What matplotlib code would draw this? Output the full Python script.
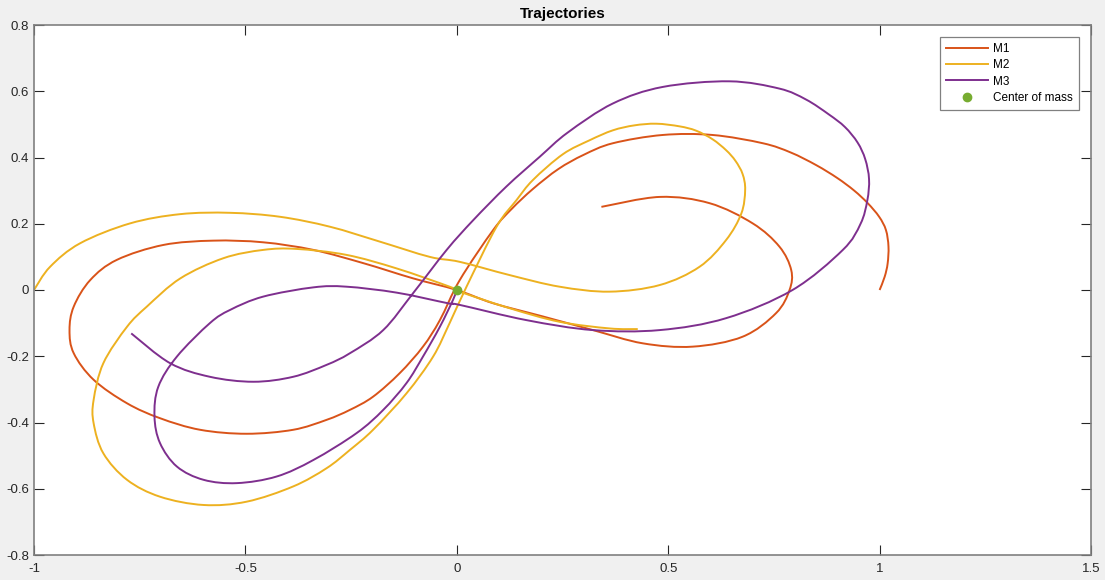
import matplotlib
matplotlib.use("Agg")
import matplotlib.pyplot as plt
from matplotlib.path import Path
from matplotlib.patches import PathPatch
from matplotlib.lines import Line2D
from matplotlib.ticker import FixedLocator, FuncFormatter

plt.rcParams['font.family'] = ['Liberation Sans', 'DejaVu Sans']

# trajectory samples (x, y)
m1_x = [1.000, 1.012, 1.019, 1.021, 1.015, 0.999, 0.972, 0.940, 0.900, 0.850,
        0.790, 0.724, 0.605, 0.487, 0.369, 0.300, 0.240, 0.180, 0.130, 0.086,
        0.007, -0.040, -0.080, -0.135, -0.198, -0.253, -0.308, -0.387, -0.497, -0.607,
        -0.702, -0.780, -0.859, -0.906, -0.916, -0.906, -0.867, -0.804, -0.694, -0.576,
        -0.458, -0.339, -0.221, -0.103, 0.000, 0.086, 0.204, 0.322, 0.440, 0.558,
        0.676, 0.755, 0.787, 0.791, 0.763, 0.700, 0.598, 0.480, 0.342]
m1_y = [0.000, 0.040, 0.080, 0.131, 0.181, 0.221, 0.262, 0.300, 0.338, 0.377,
        0.415, 0.443, 0.468, 0.468, 0.443, 0.408, 0.365, 0.305, 0.245, 0.181,
        0.030, -0.091, -0.171, -0.251, -0.322, -0.362, -0.392, -0.422, -0.434, -0.422,
        -0.387, -0.342, -0.271, -0.191, -0.121, -0.050, 0.030, 0.091, 0.136, 0.149,
        0.144, 0.121, 0.081, 0.035, 0.000, -0.040, -0.080, -0.121, -0.161, -0.171,
        -0.141, -0.070, 0.000, 0.060, 0.131, 0.201, 0.262, 0.281, 0.251]

m2_x = [-1.000, -0.962, -0.891, -0.773, -0.654, -0.536, -0.418, -0.300, -0.182, -0.064,
        0.007, 0.125, 0.243, 0.361, 0.480, 0.574, 0.637, 0.673, 0.682, 0.676,
        0.659, 0.637, 0.605, 0.566, 0.527, 0.472, 0.420, 0.369, 0.314, 0.251,
        0.180, 0.141, 0.094, 0.023, -0.017, -0.056, -0.119, -0.198, -0.253, -0.308,
        -0.387, -0.497, -0.599, -0.702, -0.780, -0.836, -0.859, -0.859, -0.836, -0.780,
        -0.733, -0.654, -0.552, -0.458, -0.379, -0.261, -0.142, -0.017, 0.007, 0.125,
        0.243, 0.361, 0.428]
m2_y = [0.000, 0.070, 0.141, 0.201, 0.229, 0.233, 0.221, 0.191, 0.146, 0.100,
        0.085, 0.045, 0.010, -0.005, 0.015, 0.070, 0.151, 0.231, 0.302, 0.350,
        0.390, 0.422, 0.455, 0.481, 0.494, 0.502, 0.497, 0.482, 0.452, 0.410,
        0.332, 0.271, 0.191, 0.010, -0.100, -0.201, -0.312, -0.422, -0.483, -0.538,
        -0.593, -0.639, -0.649, -0.624, -0.573, -0.493, -0.402, -0.332, -0.221, -0.111,
        -0.050, 0.035, 0.096, 0.121, 0.124, 0.106, 0.065, 0.010, -0.005, -0.055,
        -0.096, -0.116, -0.118]

m3_x = [0.000, -0.009, -0.040, -0.080, -0.119, -0.174, -0.237, -0.339, -0.426, -0.520,
        -0.599, -0.662, -0.702, -0.715, -0.706, -0.662, -0.584, -0.536, -0.458, -0.339,
        -0.261, -0.142, -0.021, 0.007, 0.165, 0.322, 0.480, 0.637, 0.794, 0.913,
        0.955, 0.971, 0.975, 0.966, 0.948, 0.918, 0.880, 0.826, 0.763, 0.645,
        0.487, 0.369, 0.262, 0.196, 0.117, 0.039, -0.024, -0.103, -0.174, -0.253,
        -0.308, -0.387, -0.481, -0.584, -0.678, -0.770]
m3_y = [0.000, -0.030, -0.111, -0.201, -0.281, -0.362, -0.432, -0.513, -0.563, -0.583,
        -0.573, -0.533, -0.462, -0.382, -0.292, -0.201, -0.100, -0.060, -0.020, 0.008,
        0.010, -0.008, -0.040, -0.045, -0.091, -0.121, -0.121, -0.085, 0.000, 0.121,
        0.200, 0.271, 0.335, 0.395, 0.445, 0.492, 0.530, 0.575, 0.608, 0.630,
        0.613, 0.563, 0.475, 0.402, 0.312, 0.211, 0.121, -0.009, -0.121, -0.191,
        -0.226, -0.262, -0.277, -0.262, -0.221, -0.131]

com_x = [0.0]
com_y = [0.0]

x_ticks = [-1, -0.5, 0, 0.5, 1, 1.5]
y_ticks = [-0.8, -0.6, -0.4, -0.2, 0, 0.2, 0.4, 0.6, 0.8]

colors = {'M1': '#d95319', 'M2': '#edb120', 'M3': '#7e2f8e'}
LW = 1.4


def smooth_path(xs, ys):
    # pass a Bezier curve through every sampled point (Catmull-Rom tangents)
    pts = list(zip(xs, ys))
    n = len(pts)
    verts = [pts[0]]
    codes = [Path.MOVETO]
    for i in range(n - 1):
        p0 = pts[max(i - 1, 0)]
        p1 = pts[i]
        p2 = pts[i + 1]
        p3 = pts[min(i + 2, n - 1)]
        c1 = (p1[0] + (p2[0] - p0[0]) / 6, p1[1] + (p2[1] - p0[1]) / 6)
        c2 = (p2[0] - (p3[0] - p1[0]) / 6, p2[1] - (p3[1] - p1[1]) / 6)
        verts += [c1, c2, p2]
        codes += [Path.CURVE4] * 3
    return Path(verts, codes)


fig = plt.figure(figsize=(11.05, 5.8), dpi=100, facecolor='#f0f0f0')
ax = fig.add_axes([34 / 1105, 25 / 580, 1057 / 1105, 530 / 580])
ax.set_facecolor('white')

for name, xs, ys in [('M1', m1_x, m1_y), ('M2', m2_x, m2_y), ('M3', m3_x, m3_y)]:
    ax.add_patch(PathPatch(smooth_path(xs, ys), fill=False, edgecolor=colors[name],
                           lw=LW, joinstyle='round', capstyle='butt'))
ax.plot(com_x, com_y, 'o', color='#77ac30', markersize=6, zorder=5)

ax.set_xlim(-1, 1.5)
ax.set_ylim(-0.8, 0.8)
ax.xaxis.set_major_locator(FixedLocator(x_ticks))
ax.yaxis.set_major_locator(FixedLocator(y_ticks))
fmt = FuncFormatter(lambda v, pos: '%g' % v)
ax.xaxis.set_major_formatter(fmt)
ax.yaxis.set_major_formatter(fmt)
ax.tick_params(direction='in', top=True, right=True, length=7, width=0.8,
               color='#262626', labelcolor='#262626', labelsize=9.5)
ax.tick_params(axis='x', pad=6)
for s in ax.spines.values():
    s.set_color('#808080')
    s.set_linewidth(1.2)

ax.set_title('Trajectories', fontsize=11, fontweight='bold', pad=5)

handles = [Line2D([], [], color=colors[k], lw=LW) for k in ['M1', 'M2', 'M3']]
handles.append(Line2D([], [], ls='none', marker='o', color='#77ac30', markersize=6))
leg = ax.legend(handles, ['M1', 'M2', 'M3', 'Center of mass'], loc='upper right',
                fontsize=8.5, frameon=True, fancybox=False, edgecolor='#808080',
                framealpha=1, borderaxespad=1.0, handlelength=3.5,
                handletextpad=0.45, labelspacing=0.35, borderpad=0.55)
leg.get_frame().set_linewidth(0.9)

fig.savefig('out.png', dpi=100, facecolor=fig.get_facecolor())
